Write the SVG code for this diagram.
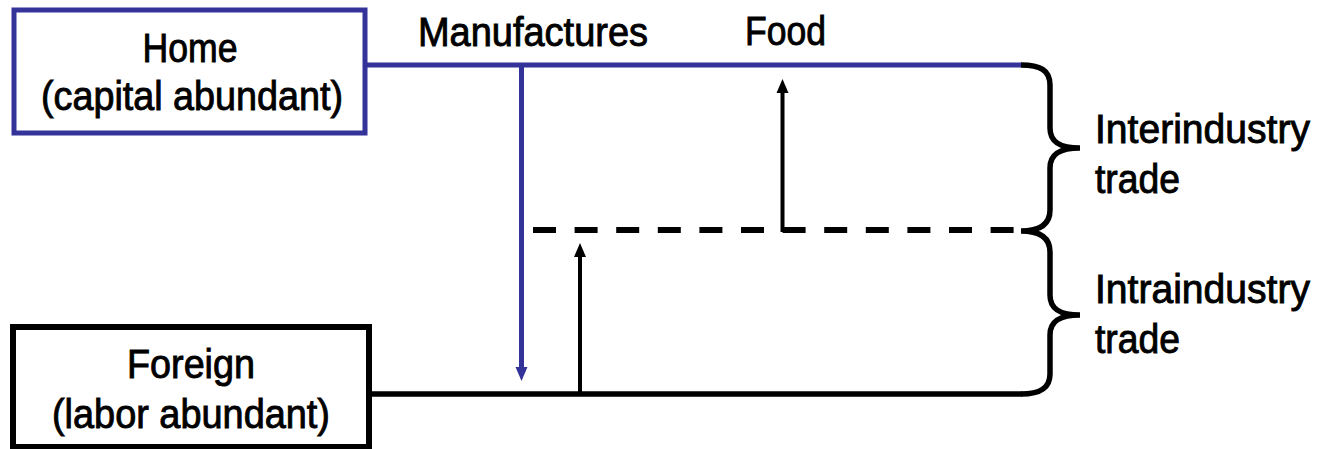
<svg xmlns="http://www.w3.org/2000/svg" width="1318" height="449" viewBox="0 0 1318 449">
  <style>
    text { font-family: "Liberation Sans", Arial, sans-serif; font-size: 40px; fill: #000; stroke: #000; stroke-width: 0.9; }
    .c { text-anchor: middle; }
    .box-home { fill: #fff; stroke: #333399; stroke-width: 5; }
    .box-foreign { fill: #fff; stroke: #000; stroke-width: 6; }
    .blue { stroke: #333399; stroke-width: 5; fill: none; }
    .blk { stroke: #000; stroke-width: 5.5; fill: none; }
    .arr { stroke: #000; stroke-width: 4; fill: none; }
    .dash { stroke: #000; stroke-width: 6; stroke-dasharray: 23 18.6; fill: none; }
  </style>
  <rect width="1318" height="449" fill="#fff"/>

  <g id="connectors">
    <!-- Home trade line (blue) -->
    <line class="blue" x1="367" y1="65" x2="1022" y2="65"/>
    <!-- Manufactures flow down to Foreign -->
    <line class="blue" x1="521.5" y1="65" x2="521.5" y2="368"/>
    <polygon points="515.5,367 527.5,367 521.5,381" fill="#333399"/>
    <!-- Foreign trade line (black) -->
    <line class="blk" x1="371" y1="394" x2="1022" y2="394"/>
    <!-- dashed divider -->
    <line class="dash" x1="533" y1="230" x2="1016" y2="230"/>
    <!-- Intraindustry arrow up -->
    <line class="arr" x1="580" y1="394" x2="580" y2="256"/>
    <polygon points="574,257 586,257 580,243" fill="#000"/>
    <!-- Food arrow up -->
    <path class="arr" d="M805,230 L782.5,230 L782.5,92"/>
    <polygon points="776.5,93 788.5,93 782.5,79" fill="#000"/>
    <!-- braces -->
    <path class="blk" d="M1021,65 C1040,65 1050,70 1050,85 L1050,128 C1050,142 1060,148 1080,148 C1060,148 1050,154 1050,168 L1050,210 C1050,224 1040,231 1021,231 C1040,231 1050,238 1050,252 L1050,295 C1050,309 1060,315 1080,315 C1060,315 1050,321 1050,335 L1050,374 C1050,388 1040,394 1021,394"/>
  </g>

  <g id="home">
    <rect class="box-home" x="14" y="10" width="351" height="123"/>
    <text class="c" x="190" y="62" textLength="95" lengthAdjust="spacingAndGlyphs">Home</text>
    <text class="c" x="192" y="110" textLength="302" lengthAdjust="spacingAndGlyphs">(capital abundant)</text>
  </g>

  <g id="foreign">
    <rect class="box-foreign" x="13" y="327" width="356" height="120"/>
    <text class="c" x="191" y="378" textLength="128" lengthAdjust="spacingAndGlyphs">Foreign</text>
    <text class="c" x="191" y="428" textLength="278" lengthAdjust="spacingAndGlyphs">(labor abundant)</text>
  </g>

  <g id="label-manufactures">
    <text class="c" x="533" y="46" textLength="230" lengthAdjust="spacingAndGlyphs">Manufactures</text>
  </g>
  <g id="label-food">
    <text x="745" y="45" textLength="81" lengthAdjust="spacingAndGlyphs">Food</text>
  </g>
  <g id="label-interindustry">
    <text x="1095" y="143" textLength="215" lengthAdjust="spacingAndGlyphs">Interindustry</text>
    <text x="1095" y="193" textLength="85" lengthAdjust="spacingAndGlyphs">trade</text>
  </g>
  <g id="label-intraindustry">
    <text x="1095" y="303" textLength="215" lengthAdjust="spacingAndGlyphs">Intraindustry</text>
    <text x="1095" y="353" textLength="85" lengthAdjust="spacingAndGlyphs">trade</text>
  </g>
</svg>
